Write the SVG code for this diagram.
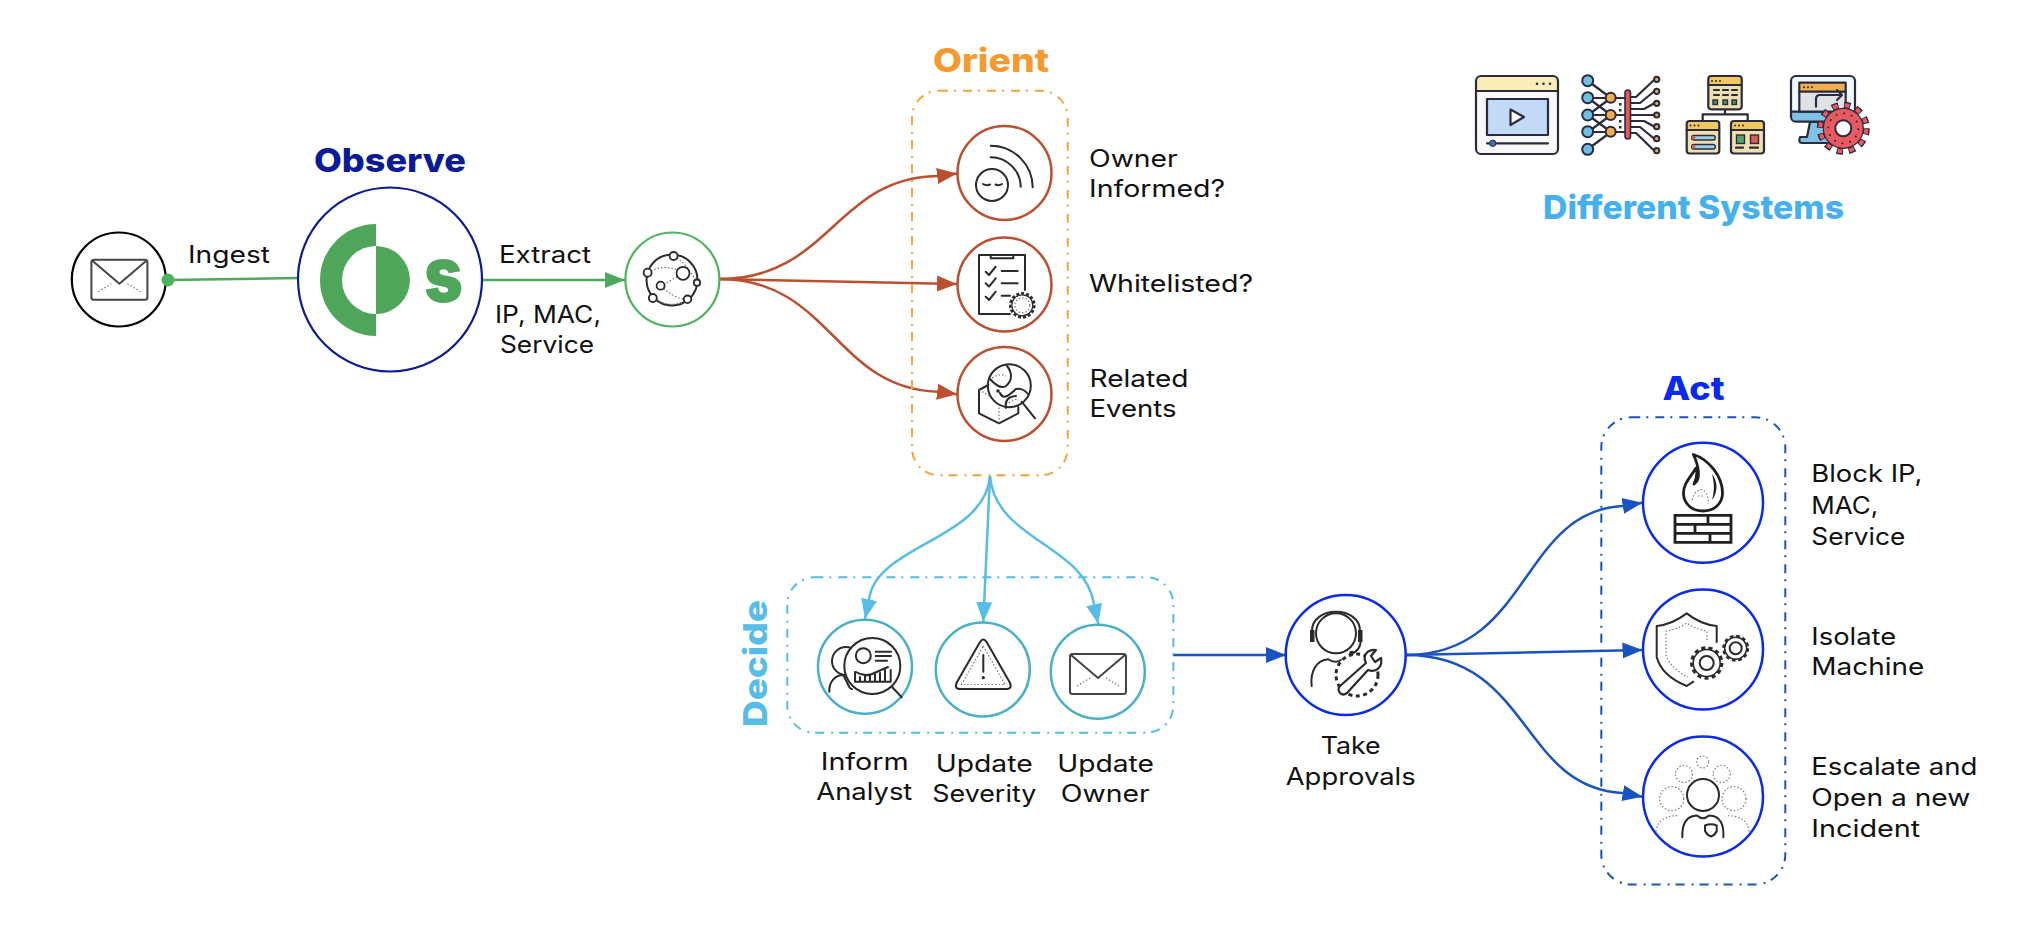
<svg xmlns="http://www.w3.org/2000/svg" width="2026" height="934" viewBox="0 0 2026 934">
<style>
text{font-family:"Inter","Liberation Sans",sans-serif;}
.lb{font-size:24px;fill:#111;}
.ti{font-size:33px;font-weight:800;}
.c{fill:#fff;}
.box{fill:none;stroke-width:2;stroke-dasharray:9 6 2 7;}
.ic{fill:none;stroke:#2a2a2a;stroke-width:2;stroke-linecap:round;stroke-linejoin:round;}
.dot{fill:none;stroke:#777;stroke-width:1.2;stroke-dasharray:1.5 2;}
.d{fill:none;stroke:#2b2b40;stroke-width:2.2;stroke-linecap:round;stroke-linejoin:round;}
.con{fill:none;stroke-width:2.5;}
</style>
<defs>
<marker id="mg" markerUnits="userSpaceOnUse" markerWidth="21" markerHeight="17" refX="20" refY="8.5" orient="auto"><path d="M0,0.5L20,8.5L0,16.5Z" fill="#4ea95c"/></marker>
<marker id="mr" markerUnits="userSpaceOnUse" markerWidth="21" markerHeight="17" refX="20" refY="8.5" orient="auto"><path d="M0,0.5L20,8.5L0,16.5Z" fill="#bb5030"/></marker>
<marker id="mc" markerUnits="userSpaceOnUse" markerWidth="21" markerHeight="17" refX="20" refY="8.5" orient="auto"><path d="M0,0.5L20,8.5L0,16.5Z" fill="#56bde6"/></marker>
<marker id="mb" markerUnits="userSpaceOnUse" markerWidth="21" markerHeight="17" refX="20" refY="8.5" orient="auto"><path d="M0,0.5L20,8.5L0,16.5Z" fill="#1a53bd"/></marker>
<g id="mail">
<rect x="-28" y="-20" width="56" height="40" rx="2.5" fill="none" stroke="#444" stroke-width="2"/>
<path d="M-27,-19L0,4L27,-19" fill="none" stroke="#444" stroke-width="2"/>
<path d="M-21,12L-8,4M8,4L21,12" class="dot"/>
</g>
</defs>

<g id="connectors">
<path class="con" stroke="#4ea95c" d="M168,280L298,278"/>
<path class="con" stroke="#4ea95c" marker-end="url(#mg)" d="M482,280L625,280"/>
<path class="con" stroke="#bb5030" marker-end="url(#mr)" d="M719,279C830,279 835,178 937,176L957,173.5"/>
<path class="con" stroke="#bb5030" marker-end="url(#mr)" d="M719,279L957,284"/>
<path class="con" stroke="#bb5030" marker-end="url(#mr)" d="M719,279C830,279 835,388 937,391.7L957,394.3"/>
<path class="con" stroke="#56bde6" marker-end="url(#mc)" d="M990,476C985,540 875,545 869,600L865,619"/>
<path class="con" stroke="#56bde6" marker-end="url(#mc)" d="M990,476L983.3,622"/>
<path class="con" stroke="#56bde6" marker-end="url(#mc)" d="M990,476C995,540 1085,545 1094,604L1098.3,624"/>
<path class="con" stroke="#1a53bd" marker-end="url(#mb)" d="M1173,655L1286,655"/>
<path class="con" stroke="#1a53bd" marker-end="url(#mb)" d="M1406,655C1530,655 1520,512 1622,506L1642.5,502.7"/>
<path class="con" stroke="#1a53bd" marker-end="url(#mb)" d="M1406,655L1642.5,650"/>
<path class="con" stroke="#1a53bd" marker-end="url(#mb)" d="M1406,655C1530,655 1520,787 1622,793L1642.5,796.7"/>
</g>

<g id="source-mail">
<circle cx="118.8" cy="279.5" r="47" class="c" stroke="#000" stroke-width="2.2"/>
<use href="#mail" x="119.4" y="279.7"/>
<circle cx="168" cy="280" r="6.5" fill="#4db35e"/>
</g>
<text class="lb"><tspan x="188" y="262.5" textLength="82" lengthAdjust="spacingAndGlyphs">Ingest</tspan></text>

<g id="observe">
<text class="ti" x="314" y="171.7" fill="#0b1a96" textLength="152" lengthAdjust="spacingAndGlyphs">Observe</text>
<circle cx="390" cy="279.5" r="92" class="c" stroke="#0b1a96" stroke-width="2.2"/>
<path fill="#4fa65a" d="M376,224A56,56 0 0 0 376,336L376,314A34,34 0 0 1 376,246ZM376,246A34,34 0 0 1 376,314Z"/>
<text x="424" y="302" font-size="78" font-weight="900" fill="#4fa65a" textLength="39" lengthAdjust="spacingAndGlyphs">s</text>
</g>
<text class="lb"><tspan x="499" y="262.5" textLength="92" lengthAdjust="spacingAndGlyphs">Extract</tspan></text>
<text class="lb"><tspan x="495" y="322.7" textLength="106" lengthAdjust="spacingAndGlyphs">IP, MAC,</tspan><tspan x="500" y="353.3" textLength="94" lengthAdjust="spacingAndGlyphs">Service</tspan></text>

<g id="extract-entities">
<circle cx="672.4" cy="279.5" r="47" class="c" stroke="#4db35e" stroke-width="2.2"/>
<circle cx="672" cy="280" r="25.5" class="ic"/>
<path class="dot" d="M648,273Q665,262 683,273M661,286Q675,300 688,299M683,273Q672,280 661,286M674,256Q686,262 697,283M653,298Q672,310 688,299"/>
<g fill="#fff" stroke="#2a2a2a" stroke-width="1.8">
<circle cx="673.6" cy="256" r="4"/><circle cx="647.6" cy="272.7" r="4"/><circle cx="683" cy="273.3" r="6.5"/><circle cx="697" cy="282.7" r="3.2"/><circle cx="660.6" cy="285.7" r="4"/><circle cx="652.8" cy="298" r="4"/><circle cx="687.5" cy="299.3" r="3.8"/>
</g>
</g>

<g id="orient">
<text class="ti" x="933" y="72.3" fill="#f59a31" textLength="116" lengthAdjust="spacingAndGlyphs">Orient</text>
<rect x="912" y="90.7" width="155.7" height="384.6" rx="27" class="box" stroke="#f5a33c"/>
</g>

<g id="owner-informed">
<circle cx="1004.5" cy="173" r="47" class="c" stroke="#bb5030" stroke-width="2.5"/>
<circle cx="992" cy="185" r="16" class="ic"/>
<path class="ic" d="M983,184Q986.5,186 990,184.5M995.5,184.5Q999,186 1002,184M990.7,145.7A42,42 0 0 1 1032.7,187.3M990.7,157.3A30,30 0 0 1 1020.7,186.7"/>
<text class="lb"><tspan x="1089" y="166.7" textLength="88.7" lengthAdjust="spacingAndGlyphs">Owner</tspan><tspan x="1089" y="197" textLength="136" lengthAdjust="spacingAndGlyphs">Informed?</tspan></text>
</g>

<g id="whitelisted">
<circle cx="1004.5" cy="284.5" r="47" class="c" stroke="#bb5030" stroke-width="2.5"/>
<path class="ic" d="M1025,290V255H979V314H1010M990.7,255V258.3H1013.3V255M985.7,271.7L989,275L995.7,266.7M985.7,283.3L989,286.6L995.7,278.3M985.7,296.7L989,300L995.7,291.7M1001.7,271H1017.7M1001.7,283.3H1017.7M1001.7,295.7H1010"/>
<circle cx="1022.3" cy="305.3" r="12" fill="#fff" stroke="#2a2a2a" stroke-width="2.6" stroke-dasharray="3 2"/>
<circle cx="1022.3" cy="305.3" r="10.5" fill="#fff" stroke="#2a2a2a" stroke-width="1.2"/>
<circle cx="1022.3" cy="305.3" r="7.5" class="dot"/>
<text class="lb" x="1089" y="291.7" textLength="164" lengthAdjust="spacingAndGlyphs">Whitelisted?</text>
</g>

<g id="related-events">
<circle cx="1004.5" cy="394" r="47" class="c" stroke="#bb5030" stroke-width="2.5"/>
<path class="ic" d="M988.3,385L979,390V413.3L999,423.3L1018.3,413.3V407"/>
<path class="dot" d="M999,423V405M979,390L990,396"/>
<circle cx="1009.3" cy="385.7" r="21.5" class="ic"/>
<path class="ic" stroke-width="2.2" d="M1021.7,401.7L1035,418.3M1007,366C1012,372 1013,380 1006,386Q1000,390 990,379M1000,393C1004,402 1012,392 1016,389C1020,388 1025,390 1028,394M1006,408Q1004,397 1016,396"/>
<circle cx="998" cy="391" r="1.8" fill="#2a2a2a"/>
<path class="dot" d="M992,378Q1000,373 1006,376M1009,403Q1014,398 1019,400"/>
<text class="lb"><tspan x="1089.5" y="387.3" textLength="99" lengthAdjust="spacingAndGlyphs">Related</tspan><tspan x="1089.5" y="417.3" textLength="87" lengthAdjust="spacingAndGlyphs">Events</tspan></text>
</g>

<g id="decide">
<text class="ti" transform="translate(767.3,727) rotate(-90)" fill="#56bde6" textLength="127" lengthAdjust="spacingAndGlyphs">Decide</text>
<rect x="787.3" y="577.3" width="386" height="155.4" rx="27" class="box" stroke="#56bde6"/>
</g>

<g id="inform-analyst">
<circle cx="865" cy="666.7" r="47" class="c" stroke="#4ab0c8" stroke-width="2.5"/>
<circle cx="846" cy="661" r="14" class="ic"/>
<path class="ic" d="M829.3,691.7C829,682 835,675 843.3,675C848,684 850,690 852,689"/>
<circle cx="872.3" cy="666" r="28" fill="#fff" stroke="#2a2a2a" stroke-width="2"/>
<path class="ic" stroke-width="1.7" d="M892.3,687.3L901.7,697.3M875.7,651.7H891M875.7,656H891M875.7,660.7H887M855,672V681.7H890.7V670M860,681V677M865,681V675M870,681V676M875,681V674M880,681V673M885,681V670M856,672Q864,677 872,674L888,667"/>
<circle cx="863.3" cy="655.7" r="7.5" class="ic"/>
<text class="lb"><tspan x="820.7" y="770" textLength="88" lengthAdjust="spacingAndGlyphs">Inform</tspan><tspan x="816.3" y="800" textLength="96" lengthAdjust="spacingAndGlyphs">Analyst</tspan></text>
</g>

<g id="update-severity">
<circle cx="982.8" cy="669.5" r="47" class="c" stroke="#4ab0c8" stroke-width="2.5"/>
<path class="ic" d="M980,642Q983.3,637 986.6,642L1009.5,682Q1013,689 1006,689H960.5Q953.5,689 957,682Z"/>
<path class="dot" d="M983.3,646L1005,684.5H961.5Z"/>
<path class="ic" d="M983.3,655V671.7"/>
<circle cx="983.3" cy="677.7" r="1.6" fill="#2a2a2a"/>
<text class="lb"><tspan x="935.7" y="771.7" textLength="97" lengthAdjust="spacingAndGlyphs">Update</tspan><tspan x="932.3" y="802.3" textLength="104" lengthAdjust="spacingAndGlyphs">Severity</tspan></text>
</g>

<g id="update-owner">
<circle cx="1097.8" cy="671.7" r="47" class="c" stroke="#4ab0c8" stroke-width="2.5"/>
<use href="#mail" x="1098" y="674"/>
<text class="lb"><tspan x="1057.3" y="771.7" textLength="96.7" lengthAdjust="spacingAndGlyphs">Update</tspan><tspan x="1060.7" y="802.3" textLength="89" lengthAdjust="spacingAndGlyphs">Owner</tspan></text>
</g>

<g id="take-approvals">
<circle cx="1345.7" cy="655" r="60" class="c" stroke="#0a2be8" stroke-width="2.5"/>
<circle cx="1336" cy="633.3" r="20" class="ic"/>
<path class="ic" stroke-width="2.4" d="M1312,631C1312,619 1323,611.7 1336,611.7C1349,611.7 1360,619 1360,631M1360.7,641.7Q1360,651 1351.7,653.3M1311.7,686C1310,672 1316,660 1328.3,659.3Q1335,664 1341,660"/>
<rect x="1310" y="630" width="4.5" height="12" fill="#2a2a2a"/><rect x="1358" y="630" width="4.5" height="12" fill="#2a2a2a"/>
<circle cx="1351.7" cy="653.3" r="2.5" fill="#2a2a2a"/>
<circle cx="1357" cy="675" r="21" fill="#fff" stroke="#2a2a2a" stroke-width="3" stroke-dasharray="4 3.5"/>
<path fill="#fff" stroke="#2a2a2a" stroke-width="2.2" stroke-linejoin="round" d="M1340,686L1366,663C1362,655 1368,649 1376,650L1371,656L1375,662L1381,658C1383,667 1376,673 1368,670L1347,693Q1343,696 1340,693Q1337,689 1340,686Z"/>
<text class="lb"><tspan x="1320.7" y="754.3" textLength="60" lengthAdjust="spacingAndGlyphs">Take</tspan><tspan x="1285.7" y="785" textLength="130" lengthAdjust="spacingAndGlyphs">Approvals</tspan></text>
</g>

<g id="act">
<text class="ti" x="1662.5" y="399.7" fill="#0a2bee" textLength="62" lengthAdjust="spacingAndGlyphs">Act</text>
<rect x="1601.3" y="417.3" width="184" height="467.2" rx="30" class="box" stroke="#1a53bd"/>
</g>

<g id="block">
<circle cx="1703" cy="502.7" r="60" class="c" stroke="#0a2be8" stroke-width="2.5"/>
<path fill="#fff" stroke="#1f1f1f" stroke-width="2.8" stroke-linejoin="round" d="M1693.3,454.5C1708,459 1723,476 1722.5,494C1722,504 1714,511 1703,511C1692,511 1684,504 1683.5,494C1683,484 1690,478 1696,468C1698,474 1697,478 1694,484C1701,480 1699,466 1693.3,454.5Z"/>
<path fill="#1f1f1f" d="M1712,474C1718,482 1718,492 1712,500C1715,490 1714,482 1712,474Z"/>
<path class="dot" stroke="#444" d="M1692,500Q1696,488 1703,490Q1709,494 1708,504M1698,496H1704"/>
<path fill="none" stroke="#1f1f1f" stroke-width="2.8" d="M1675,515.4H1731V542.4H1675ZM1675,524.4H1731M1675,533.4H1731M1708,515.4V524.4M1695,524.4V533.4M1710,533.4V542.4"/>
<text class="lb"><tspan x="1811.3" y="482.2" textLength="111" lengthAdjust="spacingAndGlyphs">Block IP,</tspan><tspan x="1811.3" y="513.7" textLength="67" lengthAdjust="spacingAndGlyphs">MAC,</tspan><tspan x="1811.3" y="544.8" textLength="94" lengthAdjust="spacingAndGlyphs">Service</tspan></text>
</g>

<g id="isolate">
<circle cx="1703" cy="649.4" r="60" class="c" stroke="#0a2be8" stroke-width="2.5"/>
<path class="ic" d="M1716.7,642V626C1705,625 1695,620 1686.7,613.4C1678,620 1668,625 1656.7,626V657C1660,670 1672,680 1686.7,686L1693.3,681.7"/>
<path class="dot" stroke="#444" d="M1707,640V631Q1695,629 1686.7,623Q1678,629 1666,631V655Q1670,668 1688,677"/>
<circle cx="1706.7" cy="663" r="15" fill="#fff" stroke="#2a2a2a" stroke-width="3.4" stroke-dasharray="4 3.2"/>
<circle cx="1706.7" cy="663" r="13.5" fill="#fff" stroke="#2a2a2a" stroke-width="1.6"/>
<circle cx="1706.7" cy="663" r="7" class="ic"/>
<circle cx="1735.7" cy="648.2" r="12" fill="#fff" stroke="#2a2a2a" stroke-width="3" stroke-dasharray="3.5 2.8"/>
<circle cx="1735.7" cy="648.2" r="11" fill="#fff" stroke="#2a2a2a" stroke-width="1.5"/>
<circle cx="1735.7" cy="648.2" r="6" class="ic"/>
<text class="lb"><tspan x="1811.3" y="644.8" textLength="85" lengthAdjust="spacingAndGlyphs">Isolate</tspan><tspan x="1811.3" y="674.9" textLength="113" lengthAdjust="spacingAndGlyphs">Machine</tspan></text>
</g>

<g id="escalate">
<circle cx="1703" cy="796.5" r="60" class="c" stroke="#0a2be8" stroke-width="2.5"/>
<circle cx="1703" cy="795" r="16" class="ic" stroke-width="2.4"/>
<path class="ic" d="M1682.3,837.2C1682,825 1685,816 1697,815.6Q1703,821 1709,815.6C1721,816 1724,825 1723.3,837.2M1705,825.5Q1711,823 1716.7,825.5V831Q1715,835 1711,836.5Q1707,835 1705,831Z"/>
<g class="dot" stroke="#555"><circle cx="1702.7" cy="762" r="6"/><circle cx="1684" cy="774" r="8.5"/><circle cx="1721.7" cy="774" r="8.5"/><circle cx="1671.7" cy="798.7" r="12"/><circle cx="1734" cy="798.7" r="12"/><path d="M1656,831.5Q1658,816 1677.3,815.6M1749.3,831.5Q1747,816 1728.3,815.6"/></g>
<text class="lb"><tspan x="1811.3" y="774.7" textLength="166" lengthAdjust="spacingAndGlyphs">Escalate and</tspan><tspan x="1811.3" y="806.1" textLength="159" lengthAdjust="spacingAndGlyphs">Open a new</tspan><tspan x="1811.3" y="837.2" textLength="109" lengthAdjust="spacingAndGlyphs">Incident</tspan></text>
</g>

<g id="different-systems">
<g id="sys-video">
<rect x="1476" y="76" width="82" height="78" rx="5" fill="#f8f8f8"/>
<path d="M1476,91V81Q1476,76 1481,76H1553Q1558,76 1558,81V91Z" fill="#f9eeb8"/>
<rect x="1476" y="76" width="82" height="78" rx="5" class="d" stroke-width="2.6"/>
<path class="d" d="M1476,91H1558"/>
<rect x="1487" y="99" width="61" height="36" class="d" style="fill:#c2d9f7"/>
<path class="d" style="fill:#fff" d="M1510.5,109.5L1524,117L1510.5,125Z"/>
<path class="d" d="M1487,143.3H1548"/>
<circle cx="1492.7" cy="143.3" r="3.2" fill="#3a6fc0" stroke="#2b2b40"/>
<g fill="#2b2b40"><circle cx="1537" cy="83.7" r="1.3"/><circle cx="1543.5" cy="83.7" r="1.3"/><circle cx="1550" cy="83.7" r="1.3"/></g>
</g>
<g id="sys-network">
<path class="d" d="M1588,81L1611,98M1588,98H1611M1588,98L1611,115M1588,115L1611,98M1588,115H1611M1588,115L1611,132M1588,132L1611,115M1588,132H1611M1588,149L1611,132M1611,98H1628M1611,115H1628M1611,132H1628"/>
<path class="d" d="M1630,97H1636L1654,80M1630,103H1640L1654,91.5M1630,109H1644L1654,103.5M1630,115H1654M1630,121H1644L1654,126.5M1630,127H1640L1654,138.5M1630,133H1636L1654,150.5"/>
<g fill="#6cc0e4" stroke="#2b2b40" stroke-width="2"><circle cx="1587.7" cy="80.7" r="5.5"/><circle cx="1587.7" cy="97.7" r="5.5"/><circle cx="1587.7" cy="115" r="5.5"/><circle cx="1587.7" cy="131.7" r="5.5"/><circle cx="1587.7" cy="149.3" r="5.5"/></g>
<g fill="#f3ac4e" stroke="#2b2b40" stroke-width="2"><circle cx="1610.7" cy="97.7" r="5"/><circle cx="1610.7" cy="115" r="5"/><circle cx="1610.7" cy="131.7" r="5"/><circle cx="1656.7" cy="79.3" r="2.6"/><circle cx="1656.7" cy="91.3" r="2.6"/><circle cx="1656.7" cy="103.3" r="2.6"/><circle cx="1656.7" cy="115" r="2.6"/><circle cx="1656.7" cy="126.7" r="2.6"/><circle cx="1656.7" cy="138.7" r="2.6"/><circle cx="1656.7" cy="150.7" r="2.6"/></g>
<rect x="1625" y="90" width="5.5" height="49" rx="2.7" fill="#e05a5a" stroke="#2b2b40" stroke-width="1.6"/>
<g fill="#2b2b40"><rect x="1619" y="103" width="2.5" height="2.5"/><rect x="1619" y="109" width="2.5" height="2.5"/><rect x="1619" y="120" width="2.5" height="2.5"/><rect x="1619" y="126" width="2.5" height="2.5"/></g>
</g>
<g id="sys-hierarchy">
<path class="d" d="M1725,109V114.3M1702.7,121V114.3H1747.7V121"/>
<rect x="1708.3" y="76" width="33.4" height="33.3" rx="3" fill="#efe0b0"/><path d="M1708.3,85V79Q1708.3,76 1711,76H1739Q1741.7,76 1741.7,79V85Z" fill="#f3c85f"/>
<rect x="1708.3" y="76" width="33.4" height="33.3" rx="3" class="d"/>
<path class="d" stroke-width="1.6" d="M1708.3,85H1741.7M1714,90H1719M1723,90H1728M1732,90H1737M1714,95H1719M1723,95H1728M1732,95H1737"/>
<g fill="#3f9a6a" stroke="#2b2b40" stroke-width="1.4"><rect x="1713" y="100" width="4.5" height="4.5"/><rect x="1723" y="100" width="4.5" height="4.5"/><rect x="1732" y="100" width="4.5" height="4.5"/></g>
<rect x="1686.7" y="121" width="32.6" height="32.5" rx="3" fill="#efe0b0"/><path d="M1686.7,130V124Q1686.7,121 1689.5,121H1716.5Q1719.3,121 1719.3,124V130Z" fill="#f3c85f"/>
<rect x="1686.7" y="121" width="32.6" height="32.5" rx="3" class="d"/>
<path class="d" stroke-width="1.6" d="M1686.7,130H1719.3"/>
<rect x="1691.7" y="135.5" width="23.5" height="4.5" rx="2" fill="#9dd0e6" stroke="#2b2b40" stroke-width="1.4"/><rect x="1691.7" y="144.5" width="23.5" height="4.5" rx="2" fill="#9dd0e6" stroke="#2b2b40" stroke-width="1.4"/>
<circle cx="1693.5" cy="137.7" r="2" fill="#e05a5a"/><circle cx="1693.5" cy="146.7" r="2" fill="#e05a5a"/>
<rect x="1731" y="121" width="33" height="32.5" rx="3" fill="#efe0b0"/><path d="M1731,130V124Q1731,121 1734,121H1761Q1764,121 1764,124V130Z" fill="#f3c85f"/>
<rect x="1731" y="121" width="33" height="32.5" rx="3" class="d"/>
<path class="d" stroke-width="1.6" d="M1731,130H1764M1736,147.7H1743M1750,147.7H1758"/>
<rect x="1736.5" y="135" width="8" height="8.5" fill="#4fa86a" stroke="#2b2b40" stroke-width="1.4"/><rect x="1750.5" y="135" width="8" height="8.5" fill="#e05a5a" stroke="#2b2b40" stroke-width="1.4"/>
<g fill="#2b2b40"><circle cx="1712" cy="81" r="1"/><circle cx="1716" cy="81" r="1"/><circle cx="1720" cy="81" r="1"/><circle cx="1690.5" cy="125.5" r="1"/><circle cx="1694.5" cy="125.5" r="1"/><circle cx="1698.5" cy="125.5" r="1"/><circle cx="1735" cy="125.5" r="1"/><circle cx="1739" cy="125.5" r="1"/><circle cx="1743" cy="125.5" r="1"/></g>
</g>
<g id="sys-monitor">
<path class="d" style="fill:#7ec3e6" d="M1810,122L1807,137H1800Q1798,143 1802,143H1830V122Z"/>
<rect x="1791" y="76" width="64" height="45.7" rx="5" fill="#eff8fb"/>
<path d="M1791,111.7H1855V117Q1855,121.7 1850,121.7H1796Q1791,121.7 1791,117Z" fill="#7ec3e6"/>
<rect x="1791" y="76" width="64" height="45.7" rx="5" class="d"/>
<path class="d" d="M1791,111.7H1855"/>
<rect x="1799.3" y="82.7" width="46.4" height="29" fill="#e0e2e6"/><rect x="1799.3" y="82.7" width="46.4" height="9" fill="#f3ae4f"/>
<rect x="1799.3" y="82.7" width="46.4" height="29" class="d"/>
<path class="d" d="M1799.3,91.7H1845.7M1816,106.7V99Q1816,95 1820,95H1842M1837,90L1842,95L1837,100"/>
<g fill="#2b2b40"><circle cx="1804" cy="87.2" r="1"/><circle cx="1808" cy="87.2" r="1"/><circle cx="1812" cy="87.2" r="1"/></g>
<circle cx="1843.3" cy="128.3" r="23" fill="none" stroke="#2b2b40" stroke-width="7" stroke-dasharray="6.4 5.64"/>
<circle cx="1843.3" cy="128.3" r="23" fill="none" stroke="#e85a60" stroke-width="4" stroke-dasharray="4.6 7.44" stroke-dashoffset="-0.9"/>
<circle cx="1843.3" cy="128.3" r="20" fill="#e85a60" stroke="#2b2b40" stroke-width="1.2"/>
<circle cx="1843.3" cy="128.3" r="8" fill="#fff" stroke="#2b2b40" stroke-width="2"/>
<circle cx="1843.3" cy="128.3" r="15" fill="none" stroke="#2b2b40" stroke-width="1.8" stroke-dasharray="1.8 6"/>
</g>
<text class="ti" x="1543" y="219.3" fill="#45b0ee" textLength="301" lengthAdjust="spacingAndGlyphs">Different Systems</text>
</g>
</svg>
